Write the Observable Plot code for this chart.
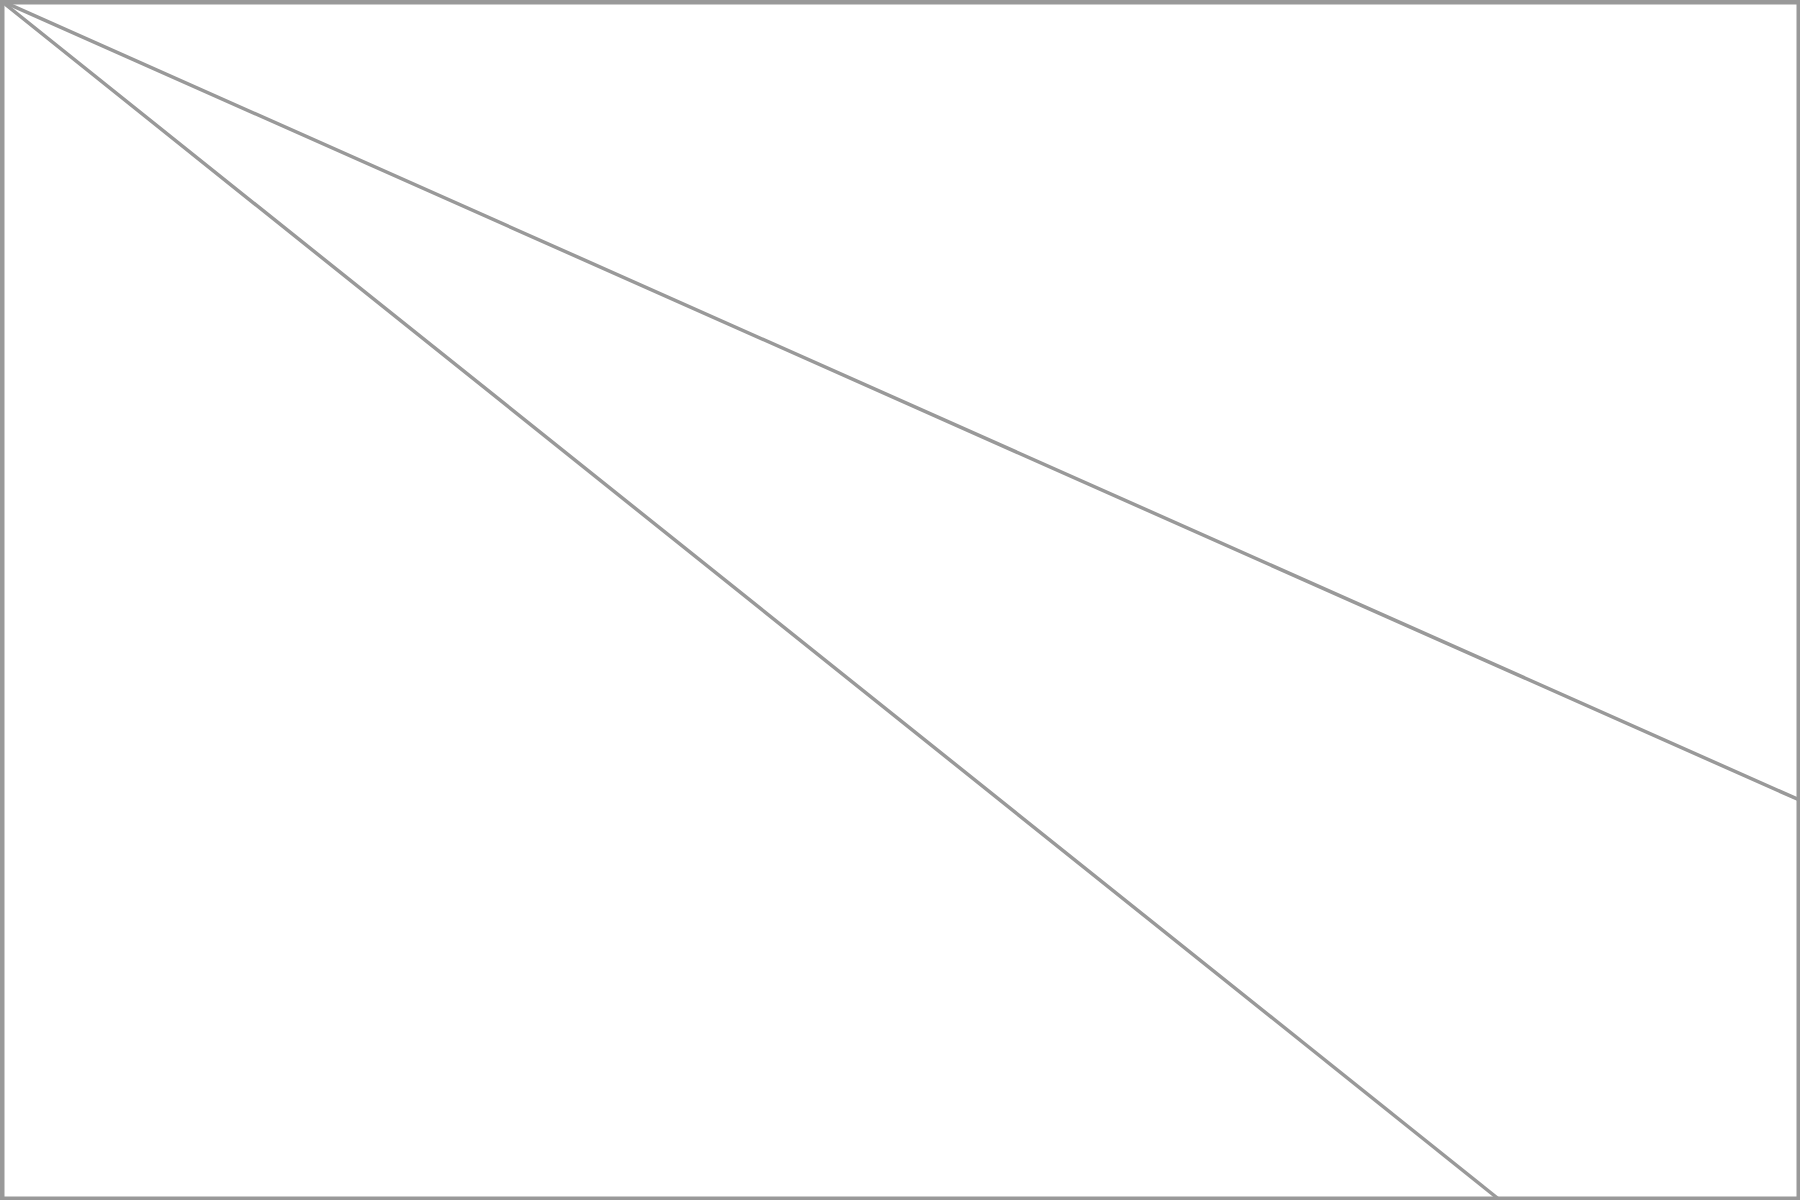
<!DOCTYPE html>
<html>
<head>
<meta charset="utf-8">
<script src="https://cdn.jsdelivr.net/npm/d3@7"></script>
<script src="https://cdn.jsdelivr.net/npm/@observablehq/plot@0.6"></script>
<style>
  html, body { margin: 0; padding: 0; background: #fff; overflow: hidden; }
  #chart svg { display: block; }
</style>
</head>
<body>
<div id="chart"></div>
<script>
// Two straight lines from the top-left corner (y measured downward)
const steepX = [0, 1500];
const steepY = [0, 1200];
const shallowX = [0, 1800];
const shallowY = [0, 800];

const steep = steepX.map((x, i) => ({x, y: steepY[i]}));
const shallow = shallowX.map((x, i) => ({x, y: shallowY[i]}));

const chart = Plot.plot({
  width: 1800,
  height: 1200,
  margin: 0,
  x: {domain: [0, 1800], axis: null},
  y: {domain: [0, 1200], range: [0, 1200], axis: null},
  marks: [
    Plot.line(steep, {x: "x", y: "y", stroke: "#999999", strokeWidth: 3.5}),
    Plot.line(shallow, {x: "x", y: "y", stroke: "#999999", strokeWidth: 3.5}),
    Plot.frame({stroke: "#999999", strokeWidth: 8})
  ]
});
document.getElementById("chart").appendChild(chart);
</script>
</body>
</html>
